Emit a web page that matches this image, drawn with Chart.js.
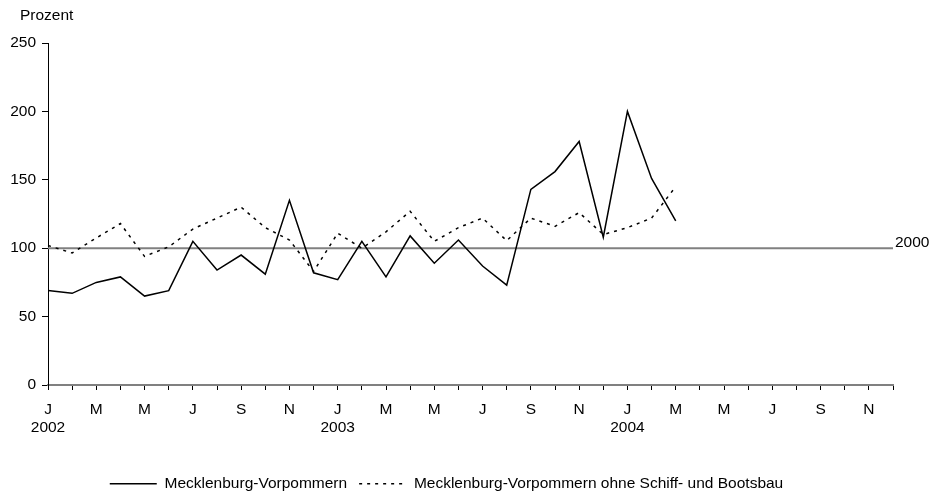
<!DOCTYPE html>
<html lang="de">
<head>
<meta charset="utf-8">
<title>Mecklenburg-Vorpommern</title>
<script src="https://cdn.jsdelivr.net/npm/chart.js@4.4.1/dist/chart.umd.min.js"></script>
<style>
    html, body { margin: 0; padding: 0; background: #fff; }
    #wrap { width: 934px; height: 497px; }
</style>
</head>
<body>
<div id="wrap"><canvas id="chart"></canvas></div>
<script>
const JAHRE = ['2002', '2003', '2004'];
const MONATE = ['J', 'F', 'M', 'A', 'M', 'J', 'J', 'A', 'S', 'O', 'N', 'D'];

// Werte Jan 2002 bis Mär 2004, 2000 = 100
const MV_GESAMT = [
    69, 67, 75, 79, 65, 69, 105, 84, 95, 81, 135, 82,
    77, 105, 79, 109, 89, 106, 87, 73, 143, 156, 178, 108,
    200, 151, 120
];
const MV_OHNE_SCHIFFBAU = [
    102, 96.5, 107.5, 118, 94, 101, 114, 122, 130, 115, 106, 83,
    111, 100, 112, 127, 105, 115, 122, 105.5, 122, 116, 126, 110,
    115, 122, 145
];
const BASIS_WERT = 100;
const BASIS_LABEL = '2000';
const Y_MIN = 0, Y_MAX = 250, Y_STEP = 50;

const FONT_SIZE = 15.5;
Chart.defaults.font.family = '"Liberation Sans", Arial, sans-serif';
Chart.defaults.font.size = FONT_SIZE;
Chart.defaults.color = '#000';

document.addEventListener('DOMContentLoaded', () => {
    const labels = [];
    JAHRE.forEach(jahr => {
        MONATE.forEach((m, i) => labels.push(i === 0 ? [m, jahr] : m));
    });

    // "Prozent" oben links und "2000" am Ende der Basislinie
    const beschriftung = {
        id: 'beschriftung',
        afterDraw(chart) {
            const ctx = chart.ctx;
            ctx.save();
            ctx.font = FONT_SIZE + 'px "Liberation Sans", Arial, sans-serif';
            ctx.fillStyle = '#000';
            ctx.textBaseline = 'middle';
            ctx.fillText('Prozent', 20, 16);
            const meta = chart.getDatasetMeta(2);
            const last = meta.data[meta.data.length - 1];
            ctx.textBaseline = 'alphabetic';
            ctx.fillText(BASIS_LABEL, last.x + 2, last.y - 1);
            ctx.restore();
        }
    };

    // Legende soll die Strichart der Linie zeigen
    const legendenEintraege = (chart) => {
        const items = Chart.defaults.plugins.legend.labels.generateLabels(chart);
        return items.map(item => {
            const ds = chart.data.datasets[item.datasetIndex];
            item.lineDash = ds.borderDash || [];
            item.lineWidth = ds.borderWidth;
            item.strokeStyle = ds.borderColor;
            return item;
        });
    };

    new Chart(document.getElementById('chart'), {
        type: 'line',
        data: {
            labels: labels,
            datasets: [
                {
                    label: 'Mecklenburg-Vorpommern',
                    data: MV_GESAMT,
                    borderColor: '#000',
                    borderWidth: 1.5,
                    pointRadius: 0,
                    tension: 0
                },
                {
                    label: 'Mecklenburg-Vorpommern ohne Schiff- und Bootsbau',
                    data: MV_OHNE_SCHIFFBAU,
                    borderColor: '#000',
                    borderWidth: 1.5,
                    borderDash: [3, 5],
                    pointRadius: 0,
                    tension: 0
                },
                {
                    label: BASIS_LABEL,
                    data: labels.map(() => BASIS_WERT),
                    borderColor: '#808080',
                    borderWidth: 2,
                    pointRadius: 0
                }
            ]
        },
        options: {
            responsive: true,
            maintainAspectRatio: false,
            animation: false,
            layout: { padding: { left: 0, right: 41, top: 43, bottom: 0 } },
            scales: {
                x: {
                    offset: false,
                    afterFit: (scale) => { scale.height = 79; },
                    grid: { drawOnChartArea: false, tickLength: 5, color: '#000', offset: false },
                    border: { color: '#808080', width: 2 },
                    ticks: {
                        autoSkip: false,
                        maxRotation: 0,
                        padding: 10,
                        color: '#000',
                        font: { lineHeight: 1.2 },
                        callback: function (value, index) {
                            return index % 2 === 0 ? this.getLabelForValue(value) : '';
                        }
                    }
                },
                y: {
                    min: Y_MIN,
                    max: Y_MAX,
                    afterFit: (scale) => { scale.width = 48; },
                    grid: { drawOnChartArea: false, tickLength: 6, color: '#000' },
                    border: { color: '#000', width: 1 },
                    ticks: { stepSize: Y_STEP, padding: 6, color: '#000' }
                }
            },
            plugins: {
                legend: {
                    position: 'bottom',
                    maxHeight: 33,
                    labels: {
                        usePointStyle: true,
                        pointStyle: 'line',
                        pointStyleWidth: 47,
                        padding: 12,
                        color: '#000',
                        generateLabels: legendenEintraege,
                        filter: (item) => item.datasetIndex < 2
                    }
                },
                tooltip: { enabled: false }
            }
        },
        plugins: [beschriftung]
    });
});
</script>
</body>
</html>
